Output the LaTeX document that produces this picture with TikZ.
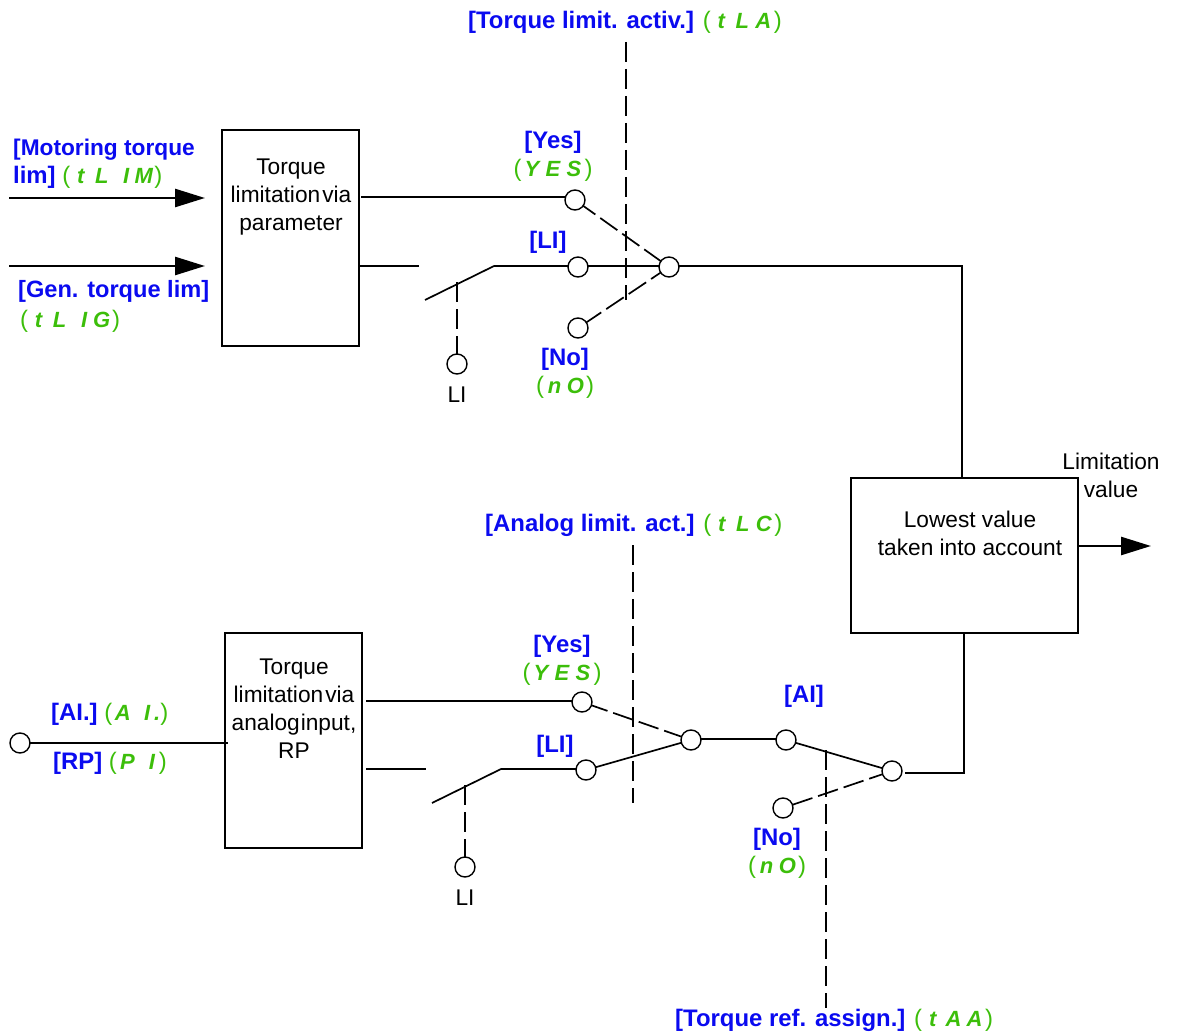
\documentclass[tikz,border=0pt]{standalone}
\usepackage{fontspec}
\setmainfont{Liberation Sans}
\usetikzlibrary{arrows.meta}
\definecolor{paramblue}{HTML}{0A0AF0}
\definecolor{seggreen}{HTML}{3CBE0A}
\newcommand{\sg}[1]{\makebox[21pt]{#1}}
\newcommand{\sgI}{\makebox[21pt]{\hspace*{7pt}I}}
\newcommand{\segcode}[1]{{\color{seggreen}\mdseries\upshape ({\fontsize{22}{28}\selectfont\bfseries\itshape #1})}}
\tikzset{
  boxshape/.style={draw, line width=2pt, fill=white, inner sep=0pt, outer sep=0pt, anchor=north west},
  boxtext/.style={inner sep=0pt, align=center, anchor=north, font=\fontsize{22.7}{28}\selectfont},
  plaintext/.style={inner sep=0pt, anchor=base, font=\fontsize{22.7}{28}\selectfont},
  param/.style={inner sep=0pt, anchor=base, text=paramblue, font=\fontsize{23.9}{28}\selectfont\bfseries},
  paramw/.style={param, anchor=base west},
  term/.style={circle, draw, fill=white, line width=1.4pt, minimum size=20pt, inner sep=0pt, outer sep=0pt},
  heavy/.style={line width=2.6pt},
  thinline/.style={line width=1.7pt},
  sigdash/.style={line width=2.6pt, dash pattern=on 20pt off 7pt},
  swdash/.style={line width=1.7pt, dash pattern=on 21pt off 6pt},
  flow/.style={line width=2.6pt, -{Triangle[length=30pt,width=18pt]}},
}
\begin{document}
\begin{tikzpicture}[x=1pt,y=-1pt]
\useasboundingbox (0,0) rectangle (1178,1035);
% boxes
\node[boxshape, minimum width=137pt, minimum height=216pt] (boxA) at (222,130) {};
\node[boxshape, minimum width=137pt, minimum height=215pt] (boxB) at (225,633) {};
\node[boxshape, minimum width=227pt, minimum height=155pt] (boxC) at (851,478) {};
\node[boxtext] (tA) at (291,159) {Torque\\{\spaceskip=2pt limitation via}\\parameter};
\node[boxtext] (tB) at (294,659) {Torque\\{\spaceskip=2pt limitation via}\\{\spaceskip=1pt analog input,}\\RP};
\node[boxtext] (tC) at (970,511) {Lowest value\\taken into account};
% terminals
\node[term] (yesA) at (575,200) {};
\node[term] (liA) at (578,267) {};
\node[term] (noA) at (578,328) {};
\node[term] (comA) at (669,267) {};
\node[term] (inA) at (457,364) {};
\node[term] (src) at (20,743) {};
\node[term] (yesB) at (582,702) {};
\node[term] (liB) at (586,770) {};
\node[term] (comB) at (691,740) {};
\node[term] (aiC) at (786,740) {};
\node[term] (noC) at (783,808) {};
\node[term] (comC) at (892,771) {};
\node[term] (inB) at (465,867) {};
% free ends
\coordinate (inM1) at (9,198);
\coordinate (inM2) at (205,198);
\coordinate (inG1) at (9,266);
\coordinate (inG2) at (205,266);
\coordinate (aOut1) at (361,197);
\coordinate (aOut2) at (359,266);
\coordinate (aStub) at (419,266);
\coordinate (swA1) at (425,300);
\coordinate (swA2) at (494,266);
\coordinate (swAm) at (457,282);
\coordinate (cornerA) at (962,266);
\coordinate (cTop) at (962,478);
\coordinate (dA1) at (626,42);
\coordinate (dA2) at (626,300);
\coordinate (srcEnd) at (228,743);
\coordinate (bOut1) at (366,701);
\coordinate (bOut2) at (366,769);
\coordinate (bStub) at (426,769);
\coordinate (swB1) at (432,803);
\coordinate (swB2) at (501,769);
\coordinate (swBm) at (465,785);
\coordinate (dB1) at (633,545);
\coordinate (dB2) at (633,803);
\coordinate (dC1) at (826,750);
\coordinate (dC2) at (826,1008);
\coordinate (outC1) at (905,773);
\coordinate (cornerB) at (964,773);
\coordinate (cBot) at (964,633);
\coordinate (res1) at (1079,546);
\coordinate (res2) at (1151,546);
% upper branch
\draw[flow] (inM1) -- (inM2);
\draw[flow] (inG1) -- (inG2);
\draw[heavy] (aOut1) -- (yesA.165 |- aOut1);
\draw[heavy] (aOut2) -- (aStub);
\draw[thinline] (swA1) -- (swA2);
\draw[heavy] (swA2) -- (liA.174 |- swA2);
\draw[heavy] (liA.6 |- swA2) -- (comA.174 |- swA2);
\draw[swdash, dash phase=6pt] (yesA) -- (comA);
\draw[swdash, dash phase=3pt] (noA) -- (comA);
\draw[sigdash] (swAm) -- (inA);
\draw[sigdash] (dA1) -- (dA2);
\draw[heavy] (comA.6 |- cornerA) -- (cornerA) -- (cTop);
% lower branch
\draw[heavy] (src) -- (srcEnd);
\draw[heavy] (bOut1) -- (yesB.174 |- bOut1);
\draw[heavy] (bOut2) -- (bStub);
\draw[thinline] (swB1) -- (swB2);
\draw[heavy] (swB2) -- (liB.174 |- swB2);
\draw[thinline] (liB) -- (comB);
\draw[swdash, dash phase=4pt] (yesB) -- (comB);
\draw[sigdash] (swBm) -- (inB);
\draw[sigdash] (dB1) -- (dB2);
\draw[heavy] (comB.6) -- (aiC.174);
\draw[thinline] (aiC) -- (comC);
\draw[swdash] (noC) -- (comC);
\draw[sigdash] (dC1) -- (dC2);
\draw[heavy] (outC1) -- (cornerB) -- (cBot);
\draw[flow] (res1) -- (res2);
% labels
\node[paramw] (l1) at (468,29) {[Torque limit. activ.] \segcode{\sg{t}\sg{L}\sg{A}}};
\node[paramw, font=\fontsize{22.7}{28}\selectfont\bfseries] (l2) at (13,156) {[Motoring torque};
\node[paramw] (l3) at (13,184) {lim] \segcode{\sg{t}\sg{L}\sgI\sg{M}}};
\node[paramw, font=\fontsize{23.6}{28}\selectfont\bfseries] (l4) at (18,297) {[Gen. torque lim]};
\node[paramw] (l5) at (20,327) {\segcode{\sg{t}\sg{L}\sgI\sg{G}}};
\node[param] (l6) at (553,149) {[Yes]};
\node[param] (l7) at (553,177) {\segcode{\sg{Y}\sg{E}\sg{S}}};
\node[param] (l8) at (548,248) {[LI]};
\node[param] (l9) at (565,365) {[No]};
\node[param] (l10) at (565,393) {\segcode{\sg{n}\sg{O}}};
\node[plaintext] (l11) at (457,402) {LI};
\node[plaintext] (l12) at (1111,469) {Limitation};
\node[plaintext] (l13) at (1111,497) {value};
\node[paramw] (l14) at (485,531) {[Analog limit. act.] \segcode{\sg{t}\sg{L}\sg{C}}};
\node[paramw] (l15) at (51,720) {[AI.] \segcode{\sg{A}\sgI.}};
\node[paramw] (l16) at (53,769) {[RP] \segcode{\sg{P}\sgI}};
\node[param] (l17) at (562,652) {[Yes]};
\node[param] (l18) at (562,680) {\segcode{\sg{Y}\sg{E}\sg{S}}};
\node[param] (l19) at (555,752) {[LI]};
\node[param] (l20) at (804,702) {[AI]};
\node[param] (l21) at (777,845) {[No]};
\node[param] (l22) at (777,873) {\segcode{\sg{n}\sg{O}}};
\node[plaintext] (l23) at (465,905) {LI};
\node[paramw] (l24) at (675,1026) {[Torque ref. assign.] \segcode{\sg{t}\sg{A}\sg{A}}};
\end{tikzpicture}
\end{document}
